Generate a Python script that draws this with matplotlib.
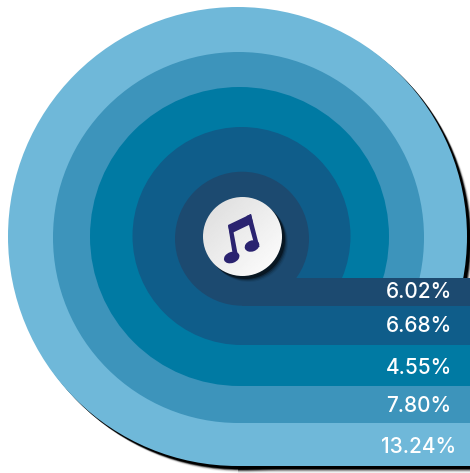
import numpy as np
import matplotlib
matplotlib.use("Agg")
import matplotlib.pyplot as plt
from matplotlib.patches import Circle, Rectangle, Ellipse, Polygon

labels = ["13.24%", "7.80%", "4.55%", "6.68%", "6.02%"]
colors = ["#6fb8d9", "#3d94bb", "#007aa3", "#0f5d8a", "#1c4a70"]
# ring extents, outer ring first (pixels of the 470x473 picture)
ring_cx = [237.5, 238.5, 239.5, 241.5, 242]
ring_cy = [236.5, 237.5, 236.5, 236, 238.7]
ring_r = [229.5, 185.5, 149.5, 109, 67]
text_y = [447, 406, 368, 326, 292]
band_top = 278
right_edge = 470
note_col = "#2a2370"

fig = plt.figure(figsize=(4.7, 4.73), dpi=100)
ax = fig.add_axes([0, 0, 1, 1])
ax.set_xlim(0, 470)
ax.set_ylim(473, 0)
ax.axis("off")

# soft black shadow under the outer shape
cx0, cy0, r0 = ring_cx[0], ring_cy[0], ring_r[0]
for d, a in [(6.5, 0.06), (5.5, 0.12), (4.7, 0.25), (4, 0.5), (3.2, 1.0)]:
    ax.add_patch(Circle((cx0 + d, cy0 + d), r0, fc="black", ec="none", alpha=a, zorder=1))
    ax.add_patch(Rectangle((cx0, band_top), right_edge - cx0, cy0 + r0 + d - band_top,
                           fc="black", ec="none", alpha=a, zorder=1))

for i, col in enumerate(colors):
    cx, cy, r = ring_cx[i], ring_cy[i], ring_r[i]
    ax.add_patch(Circle((cx, cy), r, fc=col, ec="none", zorder=2 + i))
    ax.add_patch(Rectangle((cx, band_top), right_edge - cx, cy + r - band_top, fc=col, ec="none", zorder=2 + i))

for i, lab in enumerate(labels):
    ax.text(419, text_y[i], lab, color="white", ha="center", va="center", fontsize=15,
            family="Inter", weight="medium", zorder=12)

# white disk with its shadow
for d, a in [(6, 0.08), (5, 0.15), (4, 0.25), (3, 0.45)]:
    ax.add_patch(Circle((242.5 + d, 236.5 + d), 39.5, fc="black", ec="none", alpha=a, zorder=8))
grad = np.linspace(0, 1, 80)
gx, gy = np.meshgrid(grad, grad)
im = ax.imshow(0.86 + 0.14 * (gx + gy) / 2, extent=(203, 282, 276, 197), cmap="gray",
               vmin=0, vmax=1, zorder=9, aspect="auto")
im.set_clip_path(Circle((242.5, 236.5), 39.5, transform=ax.transData))
ax.set_xlim(0, 470)
ax.set_ylim(473, 0)

# music note
ax.add_patch(Polygon([(228, 225), (251, 214), (253, 223), (230, 234)], fc=note_col, ec="none", zorder=11))
ax.add_patch(Polygon([(228, 225), (233, 256), (238, 256), (233.5, 232)], fc=note_col, ec="none", zorder=11))
ax.add_patch(Polygon([(246.5, 216), (251, 214), (259.5, 247), (255, 247)], fc=note_col, ec="none", zorder=11))
ax.add_patch(Ellipse((231.7, 257.5), 16, 11, angle=-20, fc=note_col, ec="none", zorder=11))
ax.add_patch(Ellipse((252, 246), 15, 11, angle=-20, fc=note_col, ec="none", zorder=11))

fig.savefig("out.png", dpi=100, facecolor="white")
